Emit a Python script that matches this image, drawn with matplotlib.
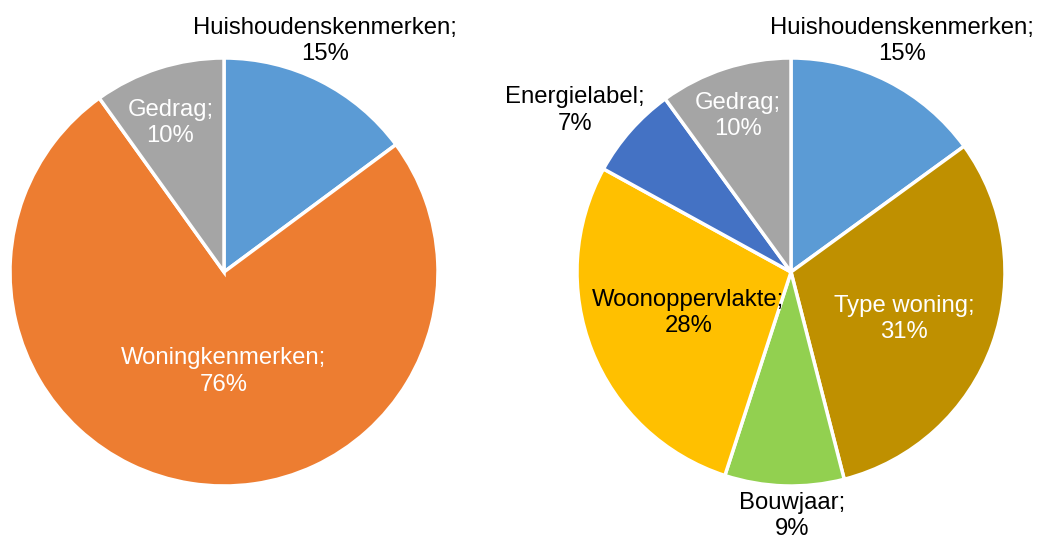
import matplotlib.pyplot as plt

plt.rcParams["font.family"] = ["Liberation Sans", "DejaVu Sans"]

# left pie: three main groups
left_labels = ["Huishoudenskenmerken", "Woningkenmerken", "Gedrag"]
left_values = [15, 76, 10]
left_colors = ["#5B9BD5", "#ED7D31", "#A5A5A5"]
left_text_colors = ["black", "white", "white"]

# right pie: woningkenmerken split out
right_labels = ["Huishoudenskenmerken", "Type woning", "Bouwjaar",
                "Woonoppervlakte", "Energielabel", "Gedrag"]
right_values = [15, 31, 9, 28, 7, 10]
right_colors = ["#5B9BD5", "#BF9000", "#92D050", "#FFC000", "#4472C4", "#A5A5A5"]
right_text_colors = ["black", "white", "black", "black", "black", "white"]

# label offsets from pie centre, in units of radius (x right, y up)
left_offsets = [(0.47, 1.08), (0.0, -0.465), (-0.25, 0.695)]
right_offsets = [(0.52, 1.08), (0.53, -0.22), (0.005, -1.14),
                 (-0.48, -0.19), (-1.01, 0.755), (-0.25, 0.73)]

W, H = 1044, 540
R = 214

fig = plt.figure(figsize=(W / 100, H / 100), dpi=100)
ax = fig.add_axes([0, 0, 1, 1])
ax.set_xlim(0, W)
ax.set_ylim(0, H)
ax.set_aspect("equal")
ax.axis("off")


def draw_pie(cx, cy, labels, values, colors, text_colors, offsets):
    ax.pie(values, colors=colors, startangle=90, counterclock=False,
           center=(cx, cy), radius=R,
           wedgeprops=dict(edgecolor="white", linewidth=2.5))
    for lab, val, tc, (ox, oy) in zip(labels, values, text_colors, offsets):
        ax.text(cx + ox * R, cy + oy * R, f"{lab};\n{val}%", color=tc,
                ha="center", va="center", fontsize=17.2, linespacing=1.25)


draw_pie(224, H - 272, left_labels, left_values, left_colors,
         left_text_colors, left_offsets)
draw_pie(791, H - 272, right_labels, right_values, right_colors,
         right_text_colors, right_offsets)

ax.set_xlim(0, W)
ax.set_ylim(0, H)

fig.savefig("out.png", dpi=100)
